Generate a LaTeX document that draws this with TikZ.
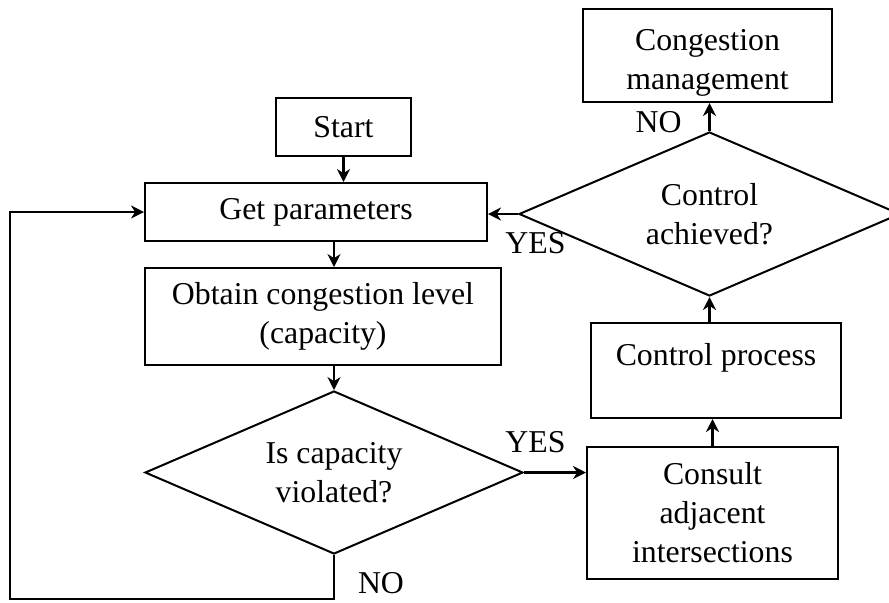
\documentclass[tikz,border=0pt]{standalone}
\usepackage{fontspec}
\setmainfont{Liberation Serif}
\usetikzlibrary{shapes.geometric,arrows.meta}
\begin{document}
\begin{tikzpicture}[x=0.5pt,y=-0.5pt,line width=1pt,
  every node/.style={font=\fontsize{15.9}{19.5}\selectfont},
  box/.style={draw,align=center,inner sep=0pt},
  decision/.style={draw,diamond,shape aspect=2.3,align=center,inner sep=0pt},
  flow/.style={-{Stealth[length=6.5pt,width=6.5pt]},line width=1.1pt}]
\useasboundingbox (0,0) rectangle (889,602);
\clip (0,0) rectangle (889,602);
\node[box,minimum width=67.5pt,minimum height=29pt] at (343.5,127) (st) {Start};
\node[box,minimum width=171pt,minimum height=29pt] at (316,212) (gp) {Get parameters};
\node[box,minimum width=178pt,minimum height=48.5pt] at (323,316.5) (ocl) {Obtain congestion level\\(capacity)};
\node[decision,minimum width=189pt,minimum height=81.5pt] at (334,472.5) (cv) {Is capacity\\violated?};
\node[box,minimum width=125.5pt,minimum height=66pt] at (712.5,513) (cai) {Consult\\adjacent\\intersections};
\node[box,minimum width=125pt,minimum height=47.5pt,text depth=16.4pt] at (716,370.5) (cp) {Control process};
\node[decision,minimum width=190.5pt,minimum height=82pt] at (709.5,214) (ca) {Control\\achieved?};
\node[box,minimum width=124.5pt,minimum height=46.5pt,text height=37pt] at (707.5,55.5) (cm) {Congestion\\management};
\node at (535.5,243.5) (yes1) {YES}; \node at (658.5,122.5) (no1) {NO};
\node at (535.5,442.5) (yes2) {YES}; \node at (381,583) (no2) {NO};
\draw[flow] (st.south) -- (st.south |- gp.north);
\draw[flow] (cv.north |- gp.south) -- (cv.north |- ocl.north);
\draw[flow] (cv.north |- ocl.south) -- (cv.north);
\draw[flow] (cv.east) -- (cv.east -| cai.west);
\draw[flow] (cai.north) -- (cai.north |- cp.south);
\draw[flow] (ca.south |- cp.north) -- (ca.south);
\draw[flow] (ca.north) -- (ca.north |- cm.south);
\draw[flow] (ca.west) -- (ca.west -| gp.east);
\coordinate (back) at (10,599);
\draw[flow] (cv.south) |- (back) |- (gp.west);
\end{tikzpicture}
\end{document}
